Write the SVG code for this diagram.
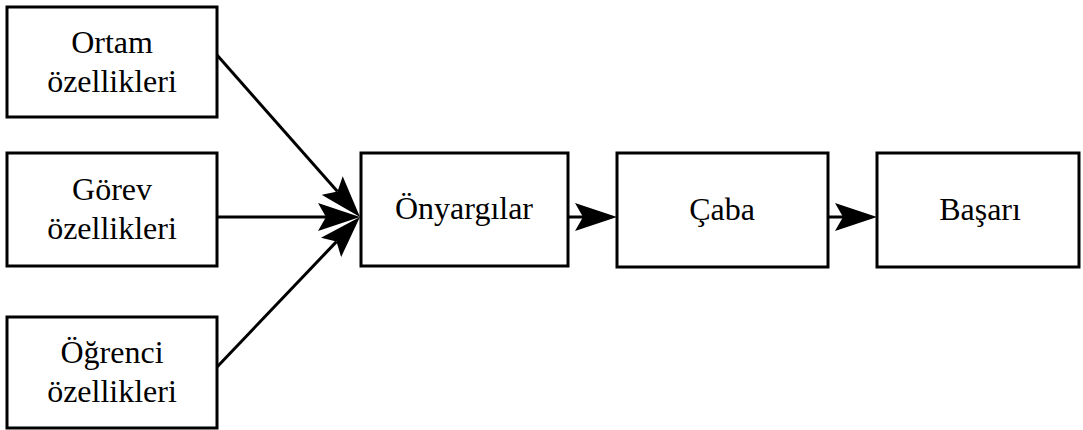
<svg xmlns="http://www.w3.org/2000/svg" width="1083" height="430" viewBox="0 0 1083 430">
<style>
.box{fill:#fff;stroke:#000;stroke-width:3}
.lbl{font-family:"Liberation Serif","Times New Roman",serif;font-size:32px;fill:#000;text-anchor:middle}
.conn{stroke:#000;stroke-width:3;fill:none}
</style>
<defs>
<marker id="ah" viewBox="0 0 42 28" markerWidth="42" markerHeight="28" refX="8" refY="14" orient="auto" markerUnits="userSpaceOnUse">
<path d="M0,0 L42,14 L0,28 L8,14 Z" fill="#000"/>
</marker>
</defs>
<rect width="1083" height="430" fill="#fff"/>
<g id="connectors">
<line class="conn" x1="217" y1="55" x2="337.5" y2="191.5" marker-end="url(#ah)"/>
<line class="conn" x1="217" y1="217" x2="326" y2="217" marker-end="url(#ah)"/>
<line class="conn" x1="217" y1="367" x2="336.5" y2="241.6" marker-end="url(#ah)"/>
<line class="conn" x1="568" y1="217" x2="583" y2="217" marker-end="url(#ah)"/>
<line class="conn" x1="828" y1="217" x2="843" y2="217" marker-end="url(#ah)"/>
</g>
<g id="ortam">
<rect class="box" x="7" y="7" width="210" height="110"/>
<text class="lbl" x="112" y="53">Ortam</text>
<text class="lbl" x="112" y="92">özellikleri</text>
</g>
<g id="gorev">
<rect class="box" x="7" y="153" width="210" height="113"/>
<text class="lbl" x="112" y="200">Görev</text>
<text class="lbl" x="112" y="239">özellikleri</text>
</g>
<g id="ogrenci">
<rect class="box" x="7" y="317" width="210" height="111"/>
<text class="lbl" x="112" y="363">Öğrenci</text>
<text class="lbl" x="112" y="402">özellikleri</text>
</g>
<g id="onyargilar">
<rect class="box" x="361" y="153" width="207" height="113"/>
<text class="lbl" x="464" y="219">Önyargılar</text>
</g>
<g id="caba">
<rect class="box" x="617" y="153" width="211" height="114"/>
<text class="lbl" x="722" y="220">Çaba</text>
</g>
<g id="basari">
<rect class="box" x="877" y="153" width="202" height="114"/>
<text class="lbl" x="980" y="220">Başarı</text>
</g>
</svg>
